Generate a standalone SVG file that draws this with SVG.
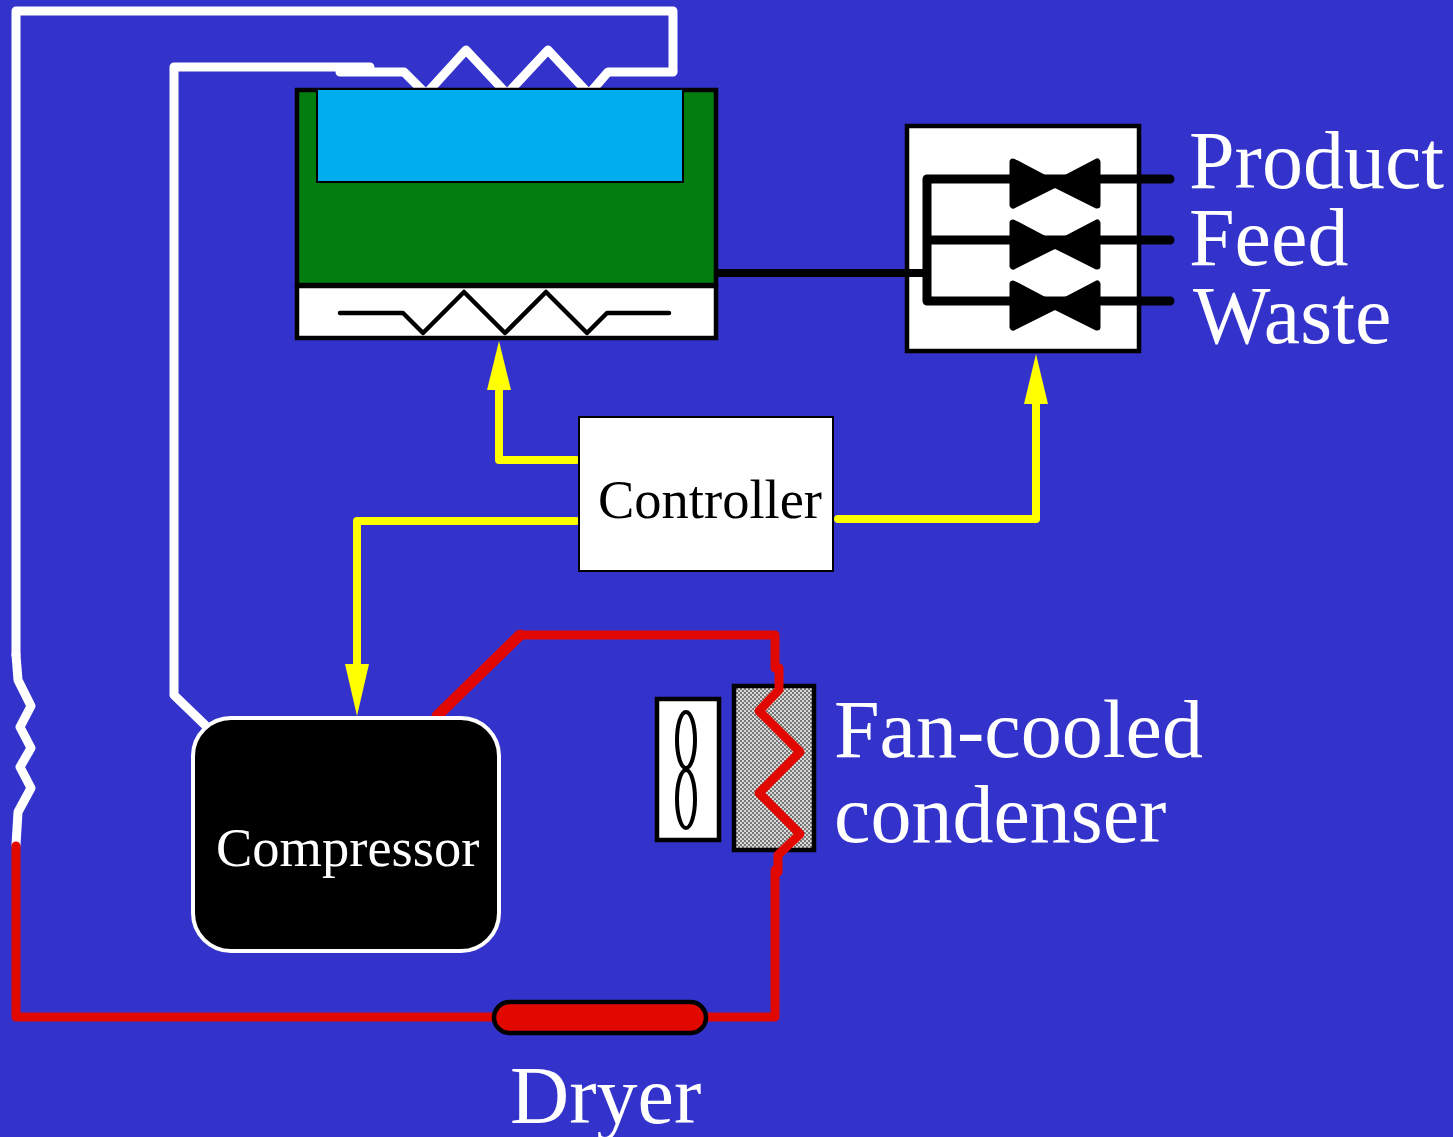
<svg xmlns="http://www.w3.org/2000/svg" width="1453" height="1137" viewBox="0 0 1453 1137">
<style>
.pipe{fill:none;stroke-linejoin:round;stroke-linecap:round}
.w{stroke:#fff;stroke-width:9}
.r{stroke:#e00800;stroke-width:9}
.y{stroke:#ff0;stroke-width:8}
.k{stroke:#000;stroke-width:9}
.lbl{font-family:"Liberation Serif","Times New Roman",serif;fill:#fff;font-size:82px}
.sm{font-family:"Liberation Serif","Times New Roman",serif;font-size:54.5px}
.valve{fill:#000;stroke:#000;stroke-width:7;stroke-linejoin:round}
.box{stroke:#000;stroke-width:4.5}
</style>
<defs>
<pattern id="hatch" width="4" height="4" patternUnits="userSpaceOnUse">
<rect width="4" height="4" fill="#d8d8d8"/>
<rect width="2" height="2" fill="#777"/>
<rect x="2" y="2" width="2" height="2" fill="#777"/>
</pattern>
</defs>
<rect width="1453" height="1137" fill="#3333cc"/>
<g id="connectors">
<path class="pipe w" d="M16 655V11H673V71"/>
<path class="pipe w" d="M340 72H404L426 94L466 50L507 94L548 50L589 94L608 72H673"/>
<path class="pipe w" d="M370 67H174V695L205 725"/>
<path class="pipe w" d="M16 655L18 680L31 706L20 727L31 748L20 767L31 788L18 812L16 845"/>
<path class="pipe y" d="M576 460H499V388"/>
<polygon points="499,341 487,390 511,390" fill="#ff0"/>
<path class="pipe y" d="M576 521H357V668"/>
<polygon points="357,716 345,664 369,664" fill="#ff0"/>
<path class="pipe y" d="M838 519H1036V400"/>
<polygon points="1036,354 1024,404 1048,404" fill="#ff0"/>
</g>
<g id="evaporator">
<rect x="297" y="90" width="419" height="195" fill="#037c10" class="box"/>
<rect x="297" y="286" width="419" height="52" fill="#fff" class="box"/>
<rect x="317" y="89" width="366" height="93" fill="#00adef" stroke="#000" stroke-width="2"/>
<path class="pipe" stroke="#000" stroke-width="4.5" d="M340 313H403L423 333L464 292L505 333L546 292L587 333L607 313H669"/>
</g>
<g id="valves">
<rect x="907" y="126" width="232" height="225" fill="#fff" class="box"/>
<path class="pipe k" d="M1170 179H927V301H1170M927 240H1170"/>
<polygon class="valve" points="1013,162 1055,184 1097,162 1097,205 1055,184 1013,205"/>
<polygon class="valve" points="1013,223 1055,245 1097,223 1097,266 1055,245 1013,266"/>
<polygon class="valve" points="1013,284 1055,306 1097,284 1097,327 1055,306 1013,327"/>
</g>
<path id="line-out" stroke="#000" stroke-width="8" d="M716 273H930"/>
<g id="controller">
<rect x="579" y="417" width="254" height="154" fill="#fff" stroke="#000" stroke-width="2"/>
<text class="sm" x="598" y="518">Controller</text>
</g>
<g id="compressor">
<path class="pipe" stroke="#e00800" stroke-width="11" d="M437 716L520 635"/>
<path class="pipe r" d="M520 635H775V668"/>
<rect x="193" y="718" width="306" height="233" rx="38" fill="#000" stroke="#fff" stroke-width="4"/>
<text class="sm" x="216" y="866" fill="#fff">Compressor</text>
</g>
<g id="fan">
<rect x="657" y="699" width="62" height="141" fill="#fff" class="box"/>
<ellipse cx="686" cy="740" rx="9" ry="28" fill="none" stroke="#000" stroke-width="4"/>
<ellipse cx="686" cy="799" rx="9" ry="29" fill="none" stroke="#000" stroke-width="4"/>
</g>
<g id="condenser">
<rect x="734" y="686" width="80" height="164" fill="url(#hatch)" class="box"/>
<path class="pipe r" stroke-width="10" d="M779 668V690L759 711L800 752L759 793L800 834L778 855V872"/>
<path class="pipe r" d="M775 870V1017H16V846"/>
<text class="lbl" x="834" y="757">Fan-cooled</text>
<text class="lbl" x="834" y="842">condenser</text>
</g>
<g id="dryer">
<rect x="494" y="1002" width="212" height="31" rx="15.5" fill="#e00800" class="box"/>
<text class="lbl" x="510" y="1123">Dryer</text>
</g>
<g id="labels">
<text class="lbl" x="1189" y="188">Product</text>
<text class="lbl" x="1189" y="265">Feed</text>
<text class="lbl" x="1193" y="343">Waste</text>
</g>
</svg>
